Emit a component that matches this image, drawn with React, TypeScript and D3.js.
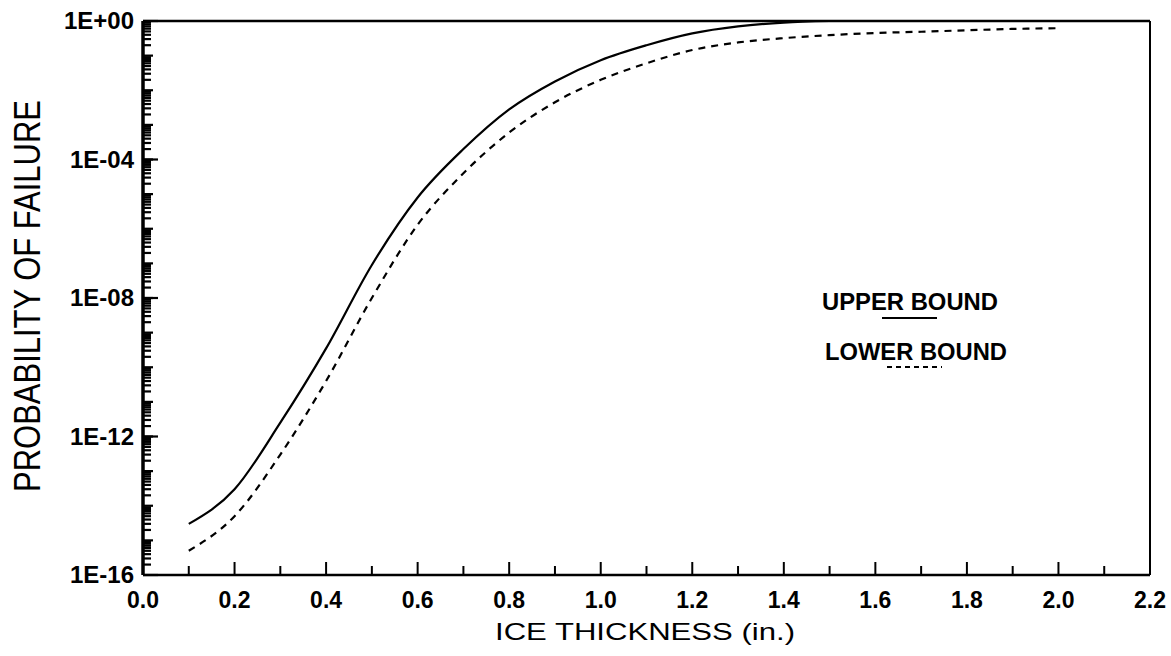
import React from 'react'
import * as d3 from 'd3'

// ice thickness (in.) and probability of failure
const upperThickness = [0.1, 0.2, 0.3, 0.4, 0.5, 0.6, 0.7, 0.8, 0.9, 1.0, 1.1, 1.2, 1.3, 1.4, 1.5]
const upperBound = [3e-15, 3e-14, 2.5e-12, 3.5e-10, 9e-8, 8e-6, 2e-4, 2.8e-3, 1.8e-2, 7.4e-2, 0.2, 0.44, 0.7, 0.9, 1.0]

const lowerThickness = [0.1, 0.2, 0.3, 0.4, 0.5, 0.6, 0.7, 0.8, 0.9, 1.0, 1.1, 1.2, 1.3, 1.4, 1.5, 1.6, 1.7, 1.8, 1.9, 2.0]
const lowerBound = [5e-16, 5e-15, 3e-13, 4e-11, 1e-8, 1.3e-6, 4e-5, 6e-4, 4.5e-3, 2e-2, 6e-2, 0.145, 0.24, 0.32, 0.39, 0.45, 0.49, 0.54, 0.59, 0.62]

const yTickValues = [1, 1e-4, 1e-8, 1e-12, 1e-16]
const yTickLabels = ['1E+00', '1E-04', '1E-08', '1E-12', '1E-16']
const xTickValues = [0, 0.2, 0.4, 0.6, 0.8, 1.0, 1.2, 1.4, 1.6, 1.8, 2.0, 2.2]
const xTickLabels = ['0.0', '0.2', '0.4', '0.6', '0.8', '1.0', '1.2', '1.4', '1.6', '1.8', '2.0', '2.2']

const W = 1171
const H = 656
const margin = { top: 21, right: 21, bottom: 81, left: 143 }
const font = '"Liberation Sans", Arial, Helvetica, sans-serif'

export default function App() {
  const x = d3.scaleLinear().domain([0, 2.2]).range([margin.left, W - margin.right])
  const y = d3.scaleLog().domain([1e-16, 1]).range([H - margin.bottom, margin.top])

  const line = d3.line<[number, number]>()
    .x(d => x(d[0]))
    .y(d => y(d[1]))
    .curve(d3.curveMonotoneX)

  const upperPts = upperThickness.map((t, i) => [t, upperBound[i]] as [number, number])
  const lowerPts = lowerThickness.map((t, i) => [t, lowerBound[i]] as [number, number])

  // log minor ticks 2..9 in every decade, plus decade ticks
  const decades = d3.range(-16, 0)
  const minorY = decades.flatMap(e => d3.range(2, 10).map(k => k * Math.pow(10, e)))
  const decadeY = d3.range(-15, 0).map(e => Math.pow(10, e))
  const minorX = d3.range(1, 22, 2).map(i => i / 10)

  const x0 = x(0)
  const y0 = y(1e-16)

  return (
    <div style={{ position: 'absolute', left: 0, top: 0, background: '#fff' }}>
      <svg width={W} height={H} style={{ display: 'block' }}>
        <rect x={0} y={0} width={W} height={H} fill="#fff" />

        {/* frame */}
        <line x1={x0} x2={x(2.2)} y1={y(1)} y2={y(1)} stroke="#000" strokeWidth={2.5} />
        <line x1={x(2.2)} x2={x(2.2)} y1={y(1)} y2={y0} stroke="#000" strokeWidth={2} />
        <line x1={x0} x2={x(2.2)} y1={y0} y2={y0} stroke="#000" strokeWidth={2.5} />
        <line x1={x0} x2={x0} y1={y(1)} y2={y0} stroke="#000" strokeWidth={3.5} />

        {/* y ticks */}
        {minorY.map((v, i) => (
          <line key={'ym' + i} x1={x0} x2={x0 + 8} y1={y(v)} y2={y(v)} stroke="#000" strokeWidth={2.2} />
        ))}
        {decadeY.map((v, i) => (
          <line key={'yd' + i} x1={x0} x2={x0 + 10} y1={y(v)} y2={y(v)} stroke="#000" strokeWidth={2.2} />
        ))}
        {yTickValues.map((v, i) => (
          <g key={'yt' + i}>
            <line x1={x0} x2={x0 + 15} y1={y(v)} y2={y(v)} stroke="#000" strokeWidth={2.2} />
            <text x={134} y={y(v) + 8} textAnchor="end" fontFamily={font} fontWeight="bold" fontSize={24}>
              {yTickLabels[i]}
            </text>
          </g>
        ))}

        {/* x ticks */}
        {minorX.map((v, i) => (
          <line key={'xm' + i} x1={x(v)} x2={x(v)} y1={y0} y2={y0 - 9} stroke="#000" strokeWidth={2} />
        ))}
        {xTickValues.map((v, i) => (
          <g key={'xt' + i}>
            <line x1={x(v)} x2={x(v)} y1={y0} y2={y0 - 13} stroke="#000" strokeWidth={2} />
            <text x={x(v)} y={608} textAnchor="middle" fontFamily={font} fontWeight="bold" fontSize={23}>
              {xTickLabels[i]}
            </text>
          </g>
        ))}

        {/* curves */}
        <path d={line(upperPts) || ''} fill="none" stroke="#000" strokeWidth={2.2} />
        <path d={line(lowerPts) || ''} fill="none" stroke="#000" strokeWidth={2.2} strokeDasharray="7,6" />

        {/* legend */}
        <text x={822} y={310} fontFamily={font} fontWeight="bold" fontSize={23} textLength={176} lengthAdjust="spacingAndGlyphs">
          UPPER BOUND
        </text>
        <line x1={882} x2={937} y1={318} y2={318} stroke="#000" strokeWidth={2} />
        <text x={825} y={360} fontFamily={font} fontWeight="bold" fontSize={23} textLength={182} lengthAdjust="spacingAndGlyphs">
          LOWER BOUND
        </text>
        <line x1={887} x2={942} y1={367} y2={367} stroke="#000" strokeWidth={2} strokeDasharray="5,4" />

        {/* axis titles */}
        <text x={645} y={640} textAnchor="middle" fontFamily={font} fontSize={24} textLength={300} lengthAdjust="spacingAndGlyphs">
          ICE THICKNESS (in.)
        </text>
        <text
          transform={`translate(40, ${(y(1) + y0) / 2 - 2}) rotate(-90)`}
          textAnchor="middle"
          fontFamily={font}
          fontSize={36}
          textLength={392}
          lengthAdjust="spacingAndGlyphs"
        >
          PROBABILITY OF FAILURE
        </text>
      </svg>
    </div>
  )
}
